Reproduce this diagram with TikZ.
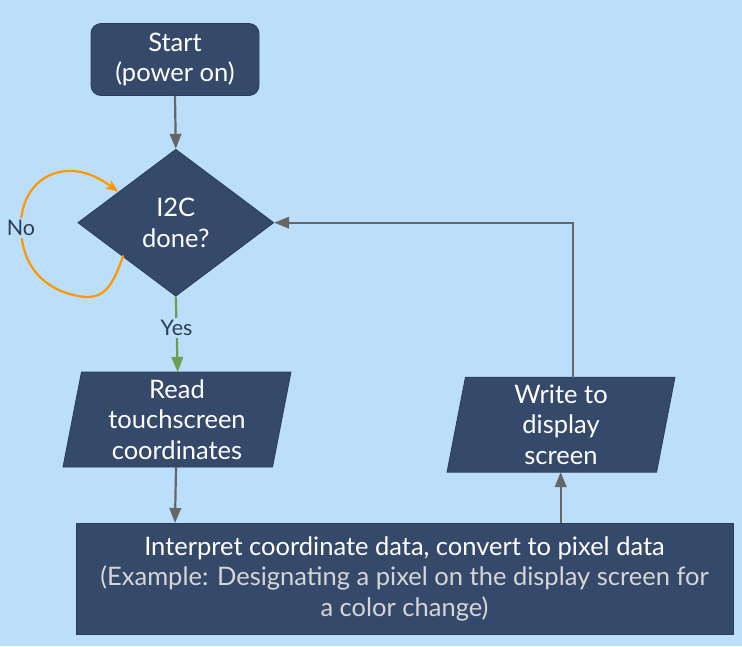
\documentclass[tikz,border=0pt]{standalone}
\usepackage{fontspec}
\setmainfont{Lato}
\usetikzlibrary{shapes.geometric,arrows.meta}
\definecolor{bg}{HTML}{BBDEFB}
\definecolor{boxfill}{HTML}{35496A}
\definecolor{boxline}{HTML}{2B3D55}
\definecolor{arrowgray}{HTML}{666666}
\definecolor{noorange}{HTML}{FF9800}
\definecolor{yesgreen}{HTML}{6A9F4E}
\definecolor{labeltext}{HTML}{2C3E50}
\definecolor{subtext}{HTML}{D6D6D6}
\tikzset{
  box/.style={fill=boxfill, draw=boxline, line width=0.8pt, text=white, align=center,
    font=\fontsize{25.5}{30.5}\selectfont, inner sep=0pt},
  para/.style={box, trapezium, trapezium left angle=77, trapezium right angle=103,
    trapezium stretches body, minimum width=228pt, minimum height=95pt},
  conn/.style={draw=arrowgray, line width=2.2pt, -{Triangle[length=15pt,width=11.5pt]}},
  lbl/.style={fill=bg, text=labeltext, font=\fontsize{21.5}{24}\selectfont, inner sep=2pt},
}
\begin{document}
\begin{tikzpicture}[x=1pt,y=-1pt]
\useasboundingbox[fill=bg] (0,0) rectangle (742,646);
\node[box, rounded corners=10pt, minimum width=168pt, minimum height=72pt] (start) at (175,59.5) {Start\\(power on)};
\node[box, diamond, minimum width=196pt, minimum height=147pt] (dec) at (175.8,222.7) {I2C\\done?};
\node[para] (read) at (177,419.5) {Read\\touchscreen\\coordinates};
\node[para] (write) at (561,424.7) {Write to\\display\\screen};
\node[box, minimum width=657pt, minimum height=111pt] (proc) at (404.5,578.5)
  {Interpret coordinate data, convert to pixel data\\
   \textcolor{subtext}{(Example: Designating a pixel on the display screen for}\\
   \textcolor{subtext}{a color change)}};
\coordinate (yesend) at (177.7,372);
\coordinate (rb) at (176,467);
\coordinate (pt) at (175,523);
\coordinate (pt2) at (560.7,523);
\coordinate (wb) at (560.7,472);
\coordinate (wt) at (572.7,378);
\coordinate (corner) at (572.7,222.7);
\coordinate (nostart) at (123.3,255.5);
\coordinate (noend) at (118.3,191.7);
\draw[conn] (start.south) -- (dec.north);
\draw[draw=yesgreen, line width=2.2pt, -{Triangle[length=15pt,width=11.5pt]}] (dec.south) -- node[lbl, pos=0.42] {Yes} (yesend);
\draw[conn] (rb) -- (pt);
\draw[conn] (pt2) -- (wb);
\draw[conn] (wt) -- (corner) -- (dec.east);
\draw[draw=noorange, line width=2.2pt, -{Stealth[length=13pt,width=10pt,inset=4pt]}]
  (nostart) .. controls (113,285) and (105,298) .. (85,297)
  .. controls (55,294) and (22,275) .. (21,228) node[lbl] {No}
  .. controls (20,195) and (40,172) .. (68,171)
  .. controls (88,170) and (105,182) .. (noend);
\end{tikzpicture}
\end{document}
